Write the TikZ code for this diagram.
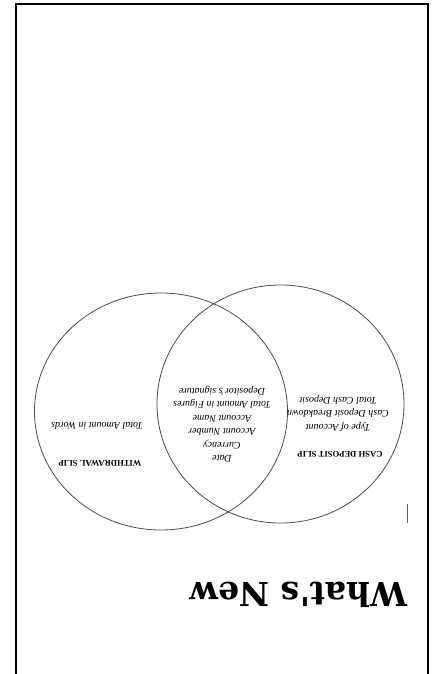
\documentclass[tikz,border=0pt]{standalone}
\usepackage{fontspec}
\setmainfont{Liberation Serif}
\newfontfamily\headfont{DejaVu Serif}
\usetikzlibrary{shapes.geometric}
\tikzset{
  x=1pt, y=-1pt,
  vennset/.style={draw=black!70, line width=0.8pt, ellipse, inner sep=0pt},
  itemtxt/.style={rotate=180, font=\fontsize{10}{13.5}\selectfont\itshape, align=center, inner sep=0pt},
  titletxt/.style={rotate=180, font=\fontsize{8.6}{10}\selectfont\bfseries, inner sep=0pt},
  framelin/.style={line width=2.2pt, black}
}
\begin{document}
\begin{tikzpicture}
\useasboundingbox (0,0) rectangle (433,674);
% frame
\coordinate (fbl) at (16,674);
\coordinate (ftl) at (16,4);
\coordinate (ftr) at (428,4);
\coordinate (fbr) at (428,674);
\draw[framelin] (fbl) -- (ftl) -- (ftr) -- (fbr);
% venn sets
\node[vennset, minimum width=253pt, minimum height=237pt] (wset) at (161,411.5) {};
\node[vennset, minimum width=247pt, minimum height=238pt] (dset) at (280.5,404) {};
% left set
\node[titletxt] (wtitle) at (100,463) {WITHDRAWAL SLIP};
\node[itemtxt] (witem) at (97,426) {Total Amount in Words};
% middle
\node[itemtxt] (common) at (222,424) {Date\\Currency\\Account Number\\Account Name\\Total Amount in Figures\\Depositor's signature};
% right set
\node[titletxt] (dtitle) at (340,454) {CASH DEPOSIT SLIP};
\node[itemtxt] (ditems) at (338,413) {Type of Account\\Cash Deposit Breakdown\\Total Cash Deposit};
% cursor mark
\coordinate (ca) at (407,504);
\coordinate (cb) at (407,523);
\draw[black!60, line width=0.8pt] (ca) -- (cb);
% heading
\node[rotate=180, font=\headfont\fontsize{33}{36}\selectfont\bfseries, inner sep=0pt] (head) at (299,595) {What's New};
\end{tikzpicture}
\end{document}
